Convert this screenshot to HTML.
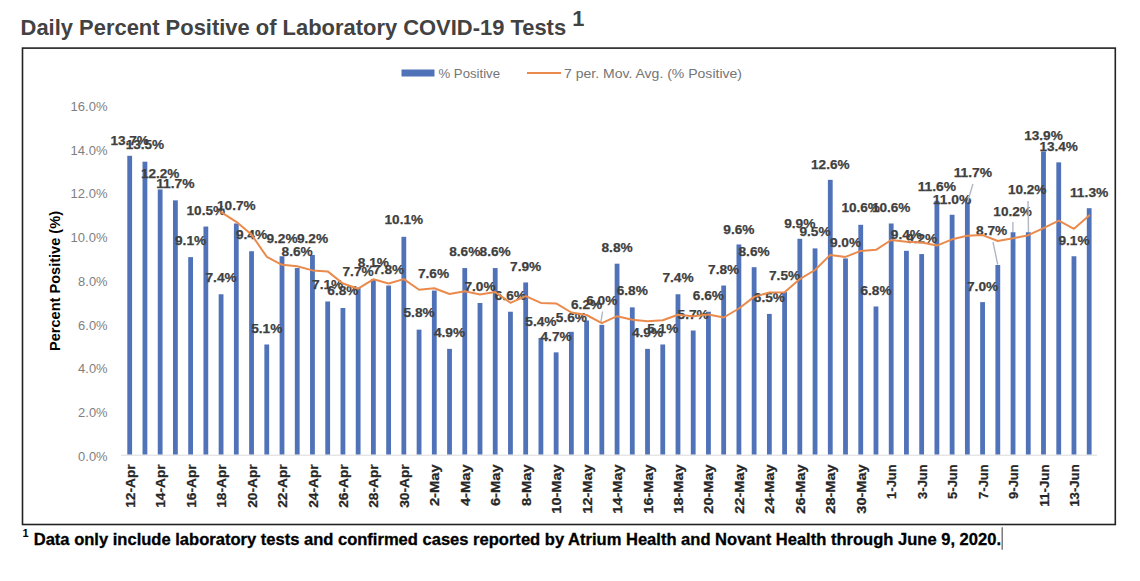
<!DOCTYPE html>
<html lang="en"><head><meta charset="utf-8"><title>Daily Percent Positive of Laboratory COVID-19 Tests</title>
<style>html,body{margin:0;padding:0;background:#fff;overflow:hidden}svg{display:block}text{font-family:"Liberation Sans", sans-serif;}.dl{font-weight:700;font-size:13.5px;fill:#404040;text-anchor:middle;stroke:#404040;stroke-width:.25px}.yl{font-size:13px;fill:#7f7f7f;text-anchor:end}.xl{font-weight:700;font-size:13.7px;fill:#262626;stroke:#262626;stroke-width:.25px}</style></head><body>
<svg width="1140" height="581" viewBox="0 0 1140 581">
<rect width="1140" height="581" fill="#fff"/>
<text x="20.6" y="34.8" font-size="21.8" font-weight="700" fill="#424242" textLength="545.5" lengthAdjust="spacingAndGlyphs">Daily Percent Positive of Laboratory COVID-19 Tests</text>
<text x="572.3" y="26.3" font-size="21.8" font-weight="700" fill="#424242">1</text>
<rect x="22.5" y="48.1" width="1092.8" height="476.4" fill="#fff" stroke="#222" stroke-width="1.6"/>
<rect x="401.5" y="69.5" width="33" height="7" fill="#5072b8"/>
<text x="438.5" y="77.8" font-size="13" fill="#757575" textLength="61.5" lengthAdjust="spacingAndGlyphs">% Positive</text>
<line x1="527" y1="73" x2="561" y2="73" stroke="#ea8a4c" stroke-width="2"/>
<text x="564" y="77.8" font-size="13" fill="#757575" textLength="178" lengthAdjust="spacingAndGlyphs">7 per. Mov. Avg. (% Positive)</text>
<text class="yl" x="107.6" y="460.5" textLength="29.5" lengthAdjust="spacingAndGlyphs">0.0%</text>
<text class="yl" x="107.6" y="416.8" textLength="29.5" lengthAdjust="spacingAndGlyphs">2.0%</text>
<text class="yl" x="107.6" y="373.1" textLength="29.5" lengthAdjust="spacingAndGlyphs">4.0%</text>
<text class="yl" x="107.6" y="329.5" textLength="29.5" lengthAdjust="spacingAndGlyphs">6.0%</text>
<text class="yl" x="107.6" y="285.8" textLength="29.5" lengthAdjust="spacingAndGlyphs">8.0%</text>
<text class="yl" x="107.6" y="242.1" textLength="37" lengthAdjust="spacingAndGlyphs">10.0%</text>
<text class="yl" x="107.6" y="198.4" textLength="37" lengthAdjust="spacingAndGlyphs">12.0%</text>
<text class="yl" x="107.6" y="154.7" textLength="37" lengthAdjust="spacingAndGlyphs">14.0%</text>
<text class="yl" x="107.6" y="111.1" textLength="37" lengthAdjust="spacingAndGlyphs">16.0%</text>
<text transform="translate(60 351) rotate(-90)" font-size="14" font-weight="700" fill="#000" textLength="140" lengthAdjust="spacingAndGlyphs">Percent Positive (%)</text>
<line x1="121" y1="455.2" x2="1097" y2="455.2" stroke="#dadada" stroke-width="1"/>
<rect x="127.30" y="155.79" width="4.8" height="298.71" fill="#5072b8"/>
<rect x="142.53" y="161.69" width="4.8" height="292.81" fill="#5072b8"/>
<rect x="157.76" y="189.43" width="4.8" height="265.07" fill="#5072b8"/>
<rect x="172.99" y="200.35" width="4.8" height="254.15" fill="#5072b8"/>
<rect x="188.22" y="257.13" width="4.8" height="197.37" fill="#5072b8"/>
<rect x="203.45" y="226.55" width="4.8" height="227.95" fill="#5072b8"/>
<rect x="218.68" y="294.26" width="4.8" height="160.24" fill="#5072b8"/>
<rect x="233.91" y="223.50" width="4.8" height="231.00" fill="#5072b8"/>
<rect x="249.14" y="251.23" width="4.8" height="203.27" fill="#5072b8"/>
<rect x="264.37" y="344.49" width="4.8" height="110.01" fill="#5072b8"/>
<rect x="279.60" y="256.26" width="4.8" height="198.24" fill="#5072b8"/>
<rect x="294.83" y="268.05" width="4.8" height="186.45" fill="#5072b8"/>
<rect x="310.06" y="254.95" width="4.8" height="199.55" fill="#5072b8"/>
<rect x="325.29" y="301.46" width="4.8" height="153.04" fill="#5072b8"/>
<rect x="340.52" y="308.02" width="4.8" height="146.48" fill="#5072b8"/>
<rect x="355.75" y="287.71" width="4.8" height="166.79" fill="#5072b8"/>
<rect x="370.98" y="278.97" width="4.8" height="175.53" fill="#5072b8"/>
<rect x="386.21" y="285.52" width="4.8" height="168.98" fill="#5072b8"/>
<rect x="401.44" y="236.82" width="4.8" height="217.68" fill="#5072b8"/>
<rect x="416.67" y="329.64" width="4.8" height="124.86" fill="#5072b8"/>
<rect x="431.90" y="290.54" width="4.8" height="163.96" fill="#5072b8"/>
<rect x="447.13" y="348.86" width="4.8" height="105.64" fill="#5072b8"/>
<rect x="462.36" y="268.05" width="4.8" height="186.45" fill="#5072b8"/>
<rect x="477.59" y="302.99" width="4.8" height="151.51" fill="#5072b8"/>
<rect x="492.82" y="268.05" width="4.8" height="186.45" fill="#5072b8"/>
<rect x="508.05" y="311.73" width="4.8" height="142.77" fill="#5072b8"/>
<rect x="523.28" y="282.46" width="4.8" height="172.04" fill="#5072b8"/>
<rect x="538.51" y="337.94" width="4.8" height="116.56" fill="#5072b8"/>
<rect x="553.74" y="352.35" width="4.8" height="102.15" fill="#5072b8"/>
<rect x="568.97" y="331.82" width="4.8" height="122.68" fill="#5072b8"/>
<rect x="584.20" y="320.47" width="4.8" height="134.03" fill="#5072b8"/>
<rect x="599.43" y="324.83" width="4.8" height="129.67" fill="#5072b8"/>
<rect x="614.66" y="263.68" width="4.8" height="190.82" fill="#5072b8"/>
<rect x="629.89" y="307.36" width="4.8" height="147.14" fill="#5072b8"/>
<rect x="645.12" y="348.86" width="4.8" height="105.64" fill="#5072b8"/>
<rect x="660.35" y="344.49" width="4.8" height="110.01" fill="#5072b8"/>
<rect x="675.58" y="294.26" width="4.8" height="160.24" fill="#5072b8"/>
<rect x="690.81" y="330.51" width="4.8" height="123.99" fill="#5072b8"/>
<rect x="706.04" y="311.73" width="4.8" height="142.77" fill="#5072b8"/>
<rect x="721.27" y="285.52" width="4.8" height="168.98" fill="#5072b8"/>
<rect x="736.50" y="244.46" width="4.8" height="210.04" fill="#5072b8"/>
<rect x="751.73" y="267.18" width="4.8" height="187.32" fill="#5072b8"/>
<rect x="766.96" y="313.91" width="4.8" height="140.59" fill="#5072b8"/>
<rect x="782.19" y="292.07" width="4.8" height="162.43" fill="#5072b8"/>
<rect x="797.42" y="238.78" width="4.8" height="215.72" fill="#5072b8"/>
<rect x="812.65" y="248.39" width="4.8" height="206.11" fill="#5072b8"/>
<rect x="827.88" y="179.82" width="4.8" height="274.68" fill="#5072b8"/>
<rect x="843.11" y="258.44" width="4.8" height="196.06" fill="#5072b8"/>
<rect x="858.34" y="224.81" width="4.8" height="229.69" fill="#5072b8"/>
<rect x="873.57" y="306.49" width="4.8" height="148.01" fill="#5072b8"/>
<rect x="888.80" y="223.50" width="4.8" height="231.00" fill="#5072b8"/>
<rect x="904.03" y="250.80" width="4.8" height="203.70" fill="#5072b8"/>
<rect x="919.26" y="254.07" width="4.8" height="200.43" fill="#5072b8"/>
<rect x="934.49" y="200.78" width="4.8" height="253.72" fill="#5072b8"/>
<rect x="949.72" y="214.76" width="4.8" height="239.74" fill="#5072b8"/>
<rect x="964.95" y="199.47" width="4.8" height="255.03" fill="#5072b8"/>
<rect x="980.18" y="302.12" width="4.8" height="152.38" fill="#5072b8"/>
<rect x="995.41" y="264.99" width="4.8" height="189.51" fill="#5072b8"/>
<rect x="1010.64" y="232.23" width="4.8" height="222.27" fill="#5072b8"/>
<rect x="1025.87" y="232.23" width="4.8" height="222.27" fill="#5072b8"/>
<rect x="1041.10" y="151.42" width="4.8" height="303.08" fill="#5072b8"/>
<rect x="1056.33" y="162.34" width="4.8" height="292.16" fill="#5072b8"/>
<rect x="1071.56" y="256.26" width="4.8" height="198.24" fill="#5072b8"/>
<rect x="1086.79" y="208.21" width="4.8" height="246.29" fill="#5072b8"/>
<text class="dl" x="129.7" y="144.7" textLength="38.5" lengthAdjust="spacingAndGlyphs">13.7%</text>
<text class="dl" x="144.9" y="149.1" textLength="38.5" lengthAdjust="spacingAndGlyphs">13.5%</text>
<text class="dl" x="160.2" y="177.5" textLength="38.5" lengthAdjust="spacingAndGlyphs">12.2%</text>
<text class="dl" x="175.4" y="188.4" textLength="38.5" lengthAdjust="spacingAndGlyphs">11.7%</text>
<text class="dl" x="190.6" y="245.2" textLength="31.2" lengthAdjust="spacingAndGlyphs">9.1%</text>
<text class="dl" x="205.8" y="214.6" textLength="38.5" lengthAdjust="spacingAndGlyphs">10.5%</text>
<text class="dl" x="221.1" y="282.3" textLength="31.2" lengthAdjust="spacingAndGlyphs">7.4%</text>
<text class="dl" x="236.3" y="210.2" textLength="38.5" lengthAdjust="spacingAndGlyphs">10.7%</text>
<text class="dl" x="251.5" y="238.6" textLength="31.2" lengthAdjust="spacingAndGlyphs">9.4%</text>
<text class="dl" x="266.8" y="332.5" textLength="31.2" lengthAdjust="spacingAndGlyphs">5.1%</text>
<text class="dl" x="282.0" y="243.0" textLength="31.2" lengthAdjust="spacingAndGlyphs">9.2%</text>
<text class="dl" x="297.2" y="256.1" textLength="31.2" lengthAdjust="spacingAndGlyphs">8.6%</text>
<text class="dl" x="312.5" y="243.0" textLength="31.2" lengthAdjust="spacingAndGlyphs">9.2%</text>
<text class="dl" x="327.7" y="288.8" textLength="31.2" lengthAdjust="spacingAndGlyphs">7.1%</text>
<text class="dl" x="342.9" y="295.4" textLength="31.2" lengthAdjust="spacingAndGlyphs">6.8%</text>
<text class="dl" x="358.1" y="275.7" textLength="31.2" lengthAdjust="spacingAndGlyphs">7.7%</text>
<text class="dl" x="373.4" y="267.0" textLength="31.2" lengthAdjust="spacingAndGlyphs">8.1%</text>
<text class="dl" x="388.6" y="273.5" textLength="31.2" lengthAdjust="spacingAndGlyphs">7.8%</text>
<text class="dl" x="403.8" y="223.8" textLength="38.5" lengthAdjust="spacingAndGlyphs">10.1%</text>
<text class="dl" x="419.1" y="317.2" textLength="31.2" lengthAdjust="spacingAndGlyphs">5.8%</text>
<text class="dl" x="433.5" y="278.4" textLength="31.2" lengthAdjust="spacingAndGlyphs">7.6%</text>
<text class="dl" x="449.5" y="336.9" textLength="31.2" lengthAdjust="spacingAndGlyphs">4.9%</text>
<text class="dl" x="464.8" y="256.1" textLength="31.2" lengthAdjust="spacingAndGlyphs">8.6%</text>
<text class="dl" x="480.0" y="291.0" textLength="31.2" lengthAdjust="spacingAndGlyphs">7.0%</text>
<text class="dl" x="495.2" y="256.1" textLength="31.2" lengthAdjust="spacingAndGlyphs">8.6%</text>
<text class="dl" x="510.4" y="299.8" textLength="31.2" lengthAdjust="spacingAndGlyphs">6.6%</text>
<text class="dl" x="525.7" y="271.4" textLength="31.2" lengthAdjust="spacingAndGlyphs">7.9%</text>
<text class="dl" x="540.9" y="326.0" textLength="31.2" lengthAdjust="spacingAndGlyphs">5.4%</text>
<text class="dl" x="556.1" y="341.3" textLength="31.2" lengthAdjust="spacingAndGlyphs">4.7%</text>
<text class="dl" x="571.4" y="321.6" textLength="31.2" lengthAdjust="spacingAndGlyphs">5.6%</text>
<text class="dl" x="586.6" y="308.5" textLength="31.2" lengthAdjust="spacingAndGlyphs">6.2%</text>
<line x1="602.6" y1="311.5" x2="600.9" y2="322" stroke="#b0b7c3" stroke-width="1.4"/>
<text class="dl" x="601.8" y="305.2" textLength="31.2" lengthAdjust="spacingAndGlyphs">6.0%</text>
<text class="dl" x="617.1" y="251.7" textLength="31.2" lengthAdjust="spacingAndGlyphs">8.8%</text>
<text class="dl" x="632.3" y="295.4" textLength="31.2" lengthAdjust="spacingAndGlyphs">6.8%</text>
<text class="dl" x="647.5" y="336.9" textLength="31.2" lengthAdjust="spacingAndGlyphs">4.9%</text>
<text class="dl" x="662.8" y="332.5" textLength="31.2" lengthAdjust="spacingAndGlyphs">5.1%</text>
<text class="dl" x="678.0" y="282.3" textLength="31.2" lengthAdjust="spacingAndGlyphs">7.4%</text>
<text class="dl" x="693.2" y="319.4" textLength="31.2" lengthAdjust="spacingAndGlyphs">5.7%</text>
<text class="dl" x="708.4" y="299.8" textLength="31.2" lengthAdjust="spacingAndGlyphs">6.6%</text>
<text class="dl" x="723.7" y="273.5" textLength="31.2" lengthAdjust="spacingAndGlyphs">7.8%</text>
<text class="dl" x="738.9" y="234.2" textLength="31.2" lengthAdjust="spacingAndGlyphs">9.6%</text>
<text class="dl" x="754.1" y="256.1" textLength="31.2" lengthAdjust="spacingAndGlyphs">8.6%</text>
<text class="dl" x="769.4" y="301.9" textLength="31.2" lengthAdjust="spacingAndGlyphs">6.5%</text>
<text class="dl" x="784.6" y="280.1" textLength="31.2" lengthAdjust="spacingAndGlyphs">7.5%</text>
<text class="dl" x="799.8" y="227.7" textLength="31.2" lengthAdjust="spacingAndGlyphs">9.9%</text>
<text class="dl" x="815.0" y="236.4" textLength="31.2" lengthAdjust="spacingAndGlyphs">9.5%</text>
<text class="dl" x="830.3" y="168.7" textLength="38.5" lengthAdjust="spacingAndGlyphs">12.6%</text>
<text class="dl" x="845.5" y="247.3" textLength="31.2" lengthAdjust="spacingAndGlyphs">9.0%</text>
<text class="dl" x="860.7" y="212.4" textLength="38.5" lengthAdjust="spacingAndGlyphs">10.6%</text>
<text class="dl" x="876.0" y="295.4" textLength="31.2" lengthAdjust="spacingAndGlyphs">6.8%</text>
<text class="dl" x="891.2" y="212.4" textLength="38.5" lengthAdjust="spacingAndGlyphs">10.6%</text>
<text class="dl" x="906.4" y="238.6" textLength="31.2" lengthAdjust="spacingAndGlyphs">9.4%</text>
<text class="dl" x="921.7" y="243.0" textLength="31.2" lengthAdjust="spacingAndGlyphs">9.2%</text>
<text class="dl" x="936.9" y="190.6" textLength="38.5" lengthAdjust="spacingAndGlyphs">11.6%</text>
<text class="dl" x="952.1" y="203.7" textLength="38.5" lengthAdjust="spacingAndGlyphs">11.0%</text>
<line x1="972.9" y1="184" x2="967.4" y2="202.5" stroke="#b0b7c3" stroke-width="1.4"/>
<text class="dl" x="972.9" y="177.0" textLength="38.5" lengthAdjust="spacingAndGlyphs">11.7%</text>
<text class="dl" x="982.6" y="291.0" textLength="31.2" lengthAdjust="spacingAndGlyphs">7.0%</text>
<line x1="993" y1="242" x2="997.7" y2="264.5" stroke="#b0b7c3" stroke-width="1.4"/>
<text class="dl" x="991.7" y="234.8" textLength="31.2" lengthAdjust="spacingAndGlyphs">8.7%</text>
<line x1="1012.9" y1="222" x2="1012.9" y2="232" stroke="#b0b7c3" stroke-width="1.4"/>
<text class="dl" x="1012.6" y="215.5" textLength="38.5" lengthAdjust="spacingAndGlyphs">10.2%</text>
<line x1="1028" y1="201" x2="1028.5" y2="232" stroke="#b0b7c3" stroke-width="1.4"/>
<text class="dl" x="1027.2" y="194.0" textLength="38.5" lengthAdjust="spacingAndGlyphs">10.2%</text>
<text class="dl" x="1043.5" y="140.3" textLength="38.5" lengthAdjust="spacingAndGlyphs">13.9%</text>
<text class="dl" x="1058.7" y="151.2" textLength="38.5" lengthAdjust="spacingAndGlyphs">13.4%</text>
<text class="dl" x="1074.0" y="245.2" textLength="31.2" lengthAdjust="spacingAndGlyphs">9.1%</text>
<text class="dl" x="1089.2" y="197.1" textLength="38.5" lengthAdjust="spacingAndGlyphs">11.3%</text>
<polyline fill="none" stroke="#ea8a4c" stroke-width="2" stroke-linejoin="round" stroke-linecap="round" points="221.1,212.2 236.3,221.8 251.5,234.6 266.8,256.8 282.0,264.8 297.2,266.3 312.5,270.4 327.7,271.4 342.9,283.5 358.1,288.7 373.4,279.3 388.6,283.5 403.8,279.1 419.1,289.7 434.3,288.2 449.5,294.0 464.8,291.2 480.0,294.6 495.2,292.1 510.4,302.8 525.7,296.1 540.9,302.9 556.1,303.4 571.4,312.5 586.6,315.0 601.8,323.1 617.1,316.2 632.3,319.8 647.5,321.3 662.8,320.2 678.0,314.8 693.2,316.3 708.4,314.4 723.7,317.5 738.9,308.5 754.1,296.9 769.4,292.5 784.6,292.2 799.8,279.1 815.0,270.0 830.3,254.9 845.5,256.9 860.7,250.9 876.0,249.8 891.2,240.0 906.4,241.7 921.7,242.6 936.9,245.6 952.1,239.3 967.3,235.7 982.6,235.1 997.8,241.0 1013.0,238.3 1028.3,235.2 1043.5,228.2 1058.7,220.7 1074.0,228.8 1089.2,215.4"/>
<text class="xl" transform="translate(134.7 507.8) rotate(-90)" textLength="43.5" lengthAdjust="spacingAndGlyphs">12-Apr</text>
<text class="xl" transform="translate(165.2 507.8) rotate(-90)" textLength="43.5" lengthAdjust="spacingAndGlyphs">14-Apr</text>
<text class="xl" transform="translate(195.6 507.8) rotate(-90)" textLength="43.5" lengthAdjust="spacingAndGlyphs">16-Apr</text>
<text class="xl" transform="translate(226.1 507.8) rotate(-90)" textLength="43.5" lengthAdjust="spacingAndGlyphs">18-Apr</text>
<text class="xl" transform="translate(256.5 507.8) rotate(-90)" textLength="43.5" lengthAdjust="spacingAndGlyphs">20-Apr</text>
<text class="xl" transform="translate(287.0 507.8) rotate(-90)" textLength="43.5" lengthAdjust="spacingAndGlyphs">22-Apr</text>
<text class="xl" transform="translate(317.5 507.8) rotate(-90)" textLength="43.5" lengthAdjust="spacingAndGlyphs">24-Apr</text>
<text class="xl" transform="translate(347.9 507.8) rotate(-90)" textLength="43.5" lengthAdjust="spacingAndGlyphs">26-Apr</text>
<text class="xl" transform="translate(378.4 507.8) rotate(-90)" textLength="43.5" lengthAdjust="spacingAndGlyphs">28-Apr</text>
<text class="xl" transform="translate(408.8 507.8) rotate(-90)" textLength="43.5" lengthAdjust="spacingAndGlyphs">30-Apr</text>
<text class="xl" transform="translate(439.3 506.1) rotate(-90)" textLength="41.8" lengthAdjust="spacingAndGlyphs">2-May</text>
<text class="xl" transform="translate(469.8 506.1) rotate(-90)" textLength="41.8" lengthAdjust="spacingAndGlyphs">4-May</text>
<text class="xl" transform="translate(500.2 506.1) rotate(-90)" textLength="41.8" lengthAdjust="spacingAndGlyphs">6-May</text>
<text class="xl" transform="translate(530.7 506.1) rotate(-90)" textLength="41.8" lengthAdjust="spacingAndGlyphs">8-May</text>
<text class="xl" transform="translate(561.1 513.7) rotate(-90)" textLength="49.4" lengthAdjust="spacingAndGlyphs">10-May</text>
<text class="xl" transform="translate(591.6 513.7) rotate(-90)" textLength="49.4" lengthAdjust="spacingAndGlyphs">12-May</text>
<text class="xl" transform="translate(622.1 513.7) rotate(-90)" textLength="49.4" lengthAdjust="spacingAndGlyphs">14-May</text>
<text class="xl" transform="translate(652.5 513.7) rotate(-90)" textLength="49.4" lengthAdjust="spacingAndGlyphs">16-May</text>
<text class="xl" transform="translate(683.0 513.7) rotate(-90)" textLength="49.4" lengthAdjust="spacingAndGlyphs">18-May</text>
<text class="xl" transform="translate(713.4 513.7) rotate(-90)" textLength="49.4" lengthAdjust="spacingAndGlyphs">20-May</text>
<text class="xl" transform="translate(743.9 513.7) rotate(-90)" textLength="49.4" lengthAdjust="spacingAndGlyphs">22-May</text>
<text class="xl" transform="translate(774.4 513.7) rotate(-90)" textLength="49.4" lengthAdjust="spacingAndGlyphs">24-May</text>
<text class="xl" transform="translate(804.8 513.7) rotate(-90)" textLength="49.4" lengthAdjust="spacingAndGlyphs">26-May</text>
<text class="xl" transform="translate(835.3 513.7) rotate(-90)" textLength="49.4" lengthAdjust="spacingAndGlyphs">28-May</text>
<text class="xl" transform="translate(865.7 513.7) rotate(-90)" textLength="49.4" lengthAdjust="spacingAndGlyphs">30-May</text>
<text class="xl" transform="translate(896.2 498.9) rotate(-90)" textLength="34.6" lengthAdjust="spacingAndGlyphs">1-Jun</text>
<text class="xl" transform="translate(926.7 498.9) rotate(-90)" textLength="34.6" lengthAdjust="spacingAndGlyphs">3-Jun</text>
<text class="xl" transform="translate(957.1 498.9) rotate(-90)" textLength="34.6" lengthAdjust="spacingAndGlyphs">5-Jun</text>
<text class="xl" transform="translate(987.6 498.9) rotate(-90)" textLength="34.6" lengthAdjust="spacingAndGlyphs">7-Jun</text>
<text class="xl" transform="translate(1018.0 498.9) rotate(-90)" textLength="34.6" lengthAdjust="spacingAndGlyphs">9-Jun</text>
<text class="xl" transform="translate(1048.5 506.7) rotate(-90)" textLength="42.4" lengthAdjust="spacingAndGlyphs">11-Jun</text>
<text class="xl" transform="translate(1079.0 506.7) rotate(-90)" textLength="42.4" lengthAdjust="spacingAndGlyphs">13-Jun</text>
<text x="22.6" y="537.3" font-size="11" font-weight="700" fill="#000">1</text>
<text x="33.7" y="544.5" font-size="16.4" font-weight="700" fill="#000" stroke="#000" stroke-width=".3" textLength="967.3" lengthAdjust="spacingAndGlyphs">Data only include laboratory tests and confirmed cases reported by Atrium Health and Novant Health through June 9, 2020.</text>
<line x1="1002.2" y1="527.2" x2="1002.2" y2="549.8" stroke="#666" stroke-width="1.3"/>
</svg></body></html>
